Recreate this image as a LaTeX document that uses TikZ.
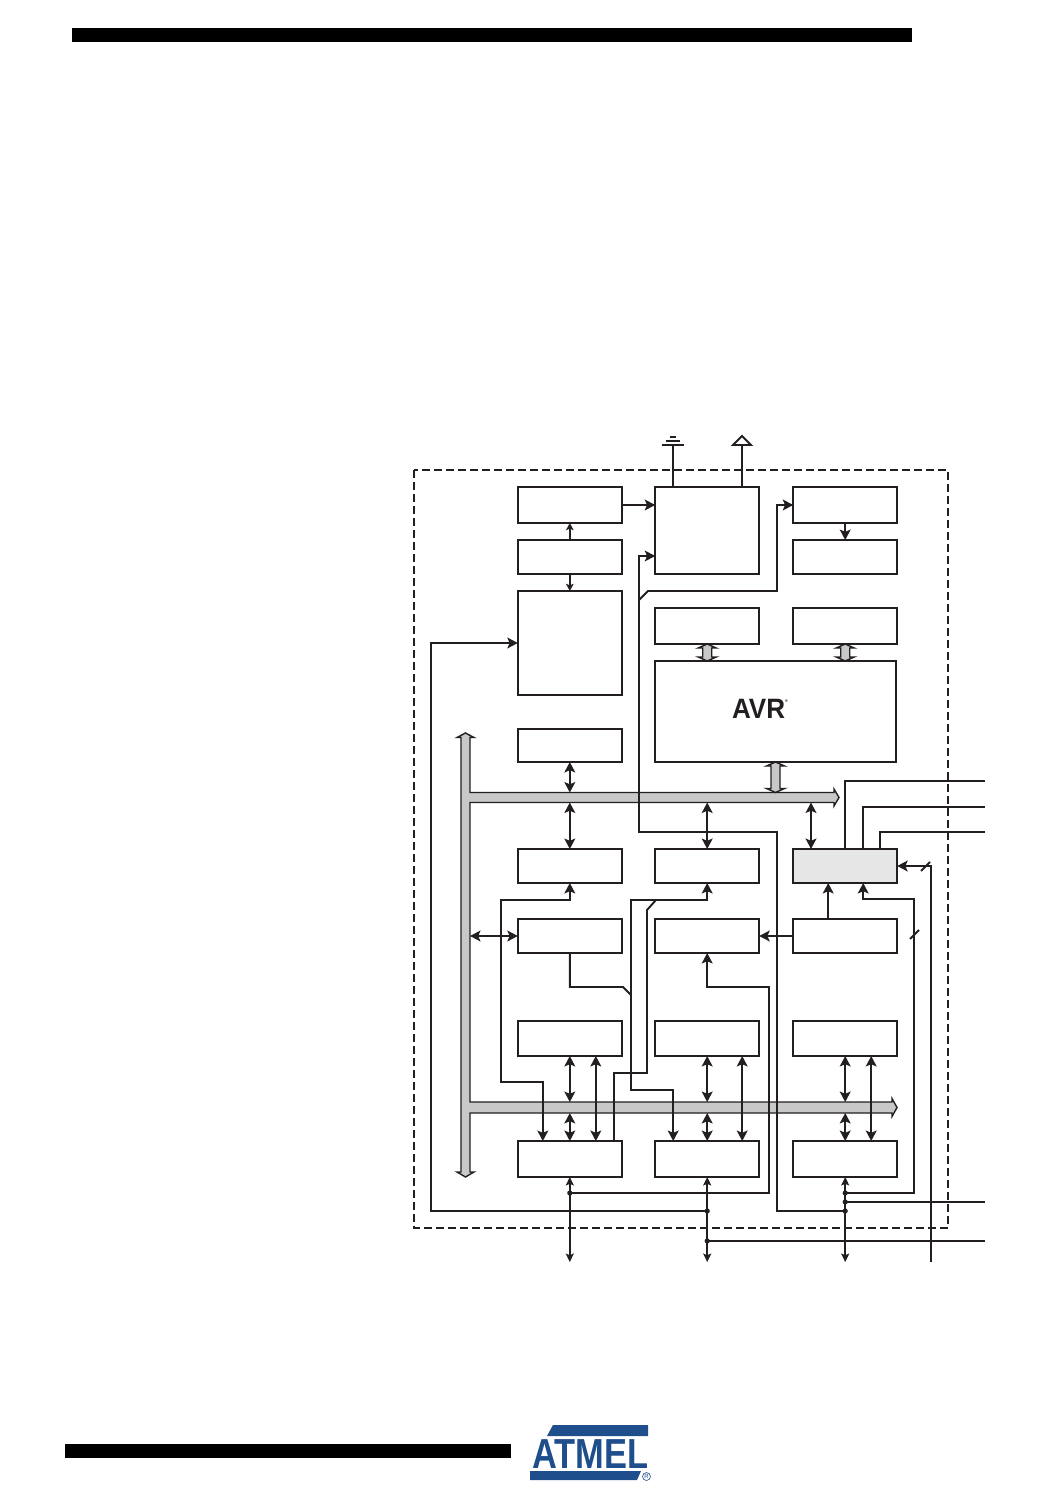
\documentclass[tikz,border=0pt]{standalone}
\usepackage{fontspec}
\usepackage{xcolor}
\usepackage{tikz}
\usetikzlibrary{arrows.meta,calc}
\newfontfamily\logofont{Liberation Sans}
\definecolor{ink}{HTML}{231F20}
\definecolor{busgray}{HTML}{C8C8C8}
\definecolor{adcgray}{HTML}{E6E6E6}
\definecolor{atmel}{HTML}{1F4E8C}
\tikzset{fig/.style={x=0.5pt,y=-0.5pt,line join=miter,ink,line width=0.95pt,>={Stealth[length=5.2pt,width=5.4pt,inset=1.1pt]}},
  blk/.style={draw=ink,fill=white,inner sep=0pt,outer sep=0pt,minimum width=52pt,minimum height=#1},
  blk/.default=17pt,
  bus/.style={fill=busgray,draw=ink,line width=0.7pt},
  tiny/.style={>={Stealth[length=3.6pt,width=3.8pt,inset=0.8pt]}},
  pin/.style={>={Stealth[length=4.2pt,width=4pt,inset=0.8pt]}}}
\newcommand{\fatlink}[2]{\filldraw[bus] (#1)--++(9,4)--++(-4.5,0)--($(#2)+(4.5,-4)$)--++(4.5,0)--(#2)--++(-9,-4)--++(4.5,0)--($(#1)+(-4.5,4)$)--++(-4.5,0)--cycle;}

\begin{document}
\begin{tikzpicture}[fig]
  \useasboundingbox (0,0) rectangle (1045,1487);
  % page bars
  \fill[black] (72,28) rectangle (912,42);
  \fill[black] (65,1444) rectangle (511,1458);
  % boundary
  \draw[line width=0.7pt,dash pattern=on 4pt off 2pt] (414,470) rectangle (948,1228);
  % buses
  \filldraw[bus] (465.5,733)--(474,737.5)--(470,737.5)--(470,792.5)--(834,792.5)--(834,789)--(839,797.5)--(834,806)--(834,802.5)--(470,802.5)--(470,1102)--(892,1102)--(892,1098.5)--(897,1107.5)--(892,1116.5)--(892,1113)--(470,1113)--(470,1172)--(474,1172)--(465.5,1177)--(457,1172)--(461,1172)--(461,737.5)--(457,737.5)--cycle;
  \coordinate (datatop) at (600,792.5);\coordinate (databot) at (600,802.5);
  \coordinate (iotop) at (600,1102);\coordinate (iobot) at (600,1113);
  \coordinate (busside) at (470,936);
  % blocks, upper part
  \node[blk=18pt] (wdosc) at (569.8,505){};
  \node[blk] (wdt) at (569.8,557){};
  \node[blk=52pt] (flash) at (569.8,643){};
  \node[blk=16.5pt,line width=0.7pt] (eeprom) at (569.8,745.5){};
  \node[blk=43.5pt] (clkctl) at (707.2,530.5){};
  \node[blk=18pt] (clksel) at (845.2,505){};
  \node[blk] (clkdiv) at (845.2,557){};
  \node[blk=18pt] (prgmem) at (707.2,626){};
  \node[blk=18pt] (sram) at (845.2,626){};
  \node[blk=50.5pt,minimum width=120.5pt] (cpu) at (775.5,711.5){};
  \node[font=\logofont\bfseries\fontsize{14}{14}\selectfont,inner sep=0pt,xscale=0.93] (avr) at (760,709){AVR\raisebox{1.1ex}{\fontsize{2}{2}\selectfont\textregistered}};
  % blocks, lower part
  \node[blk] (timer) at (569.8,866){};
  \node[blk] (usart) at (707.2,866){};
  \node[blk,fill=adcgray] (adc) at (845.2,866){};
  \node[blk] (intr) at (569.8,936){};
  \node[blk] (comp) at (707.2,936){};
  \node[blk] (vref) at (845.2,936){};
  \node[blk=17.5pt] (ddra) at (569.8,1038.5){};
  \node[blk=17.5pt] (ddrb) at (707.2,1038.5){};
  \node[blk=17.5pt] (ddrc) at (845.2,1038.5){};
  \node[blk=18pt] (pina) at (569.8,1159){};
  \node[blk=18pt] (pinb) at (707.2,1159){};
  \node[blk=18pt] (pinc) at (845.2,1159){};
  % supply
  \coordinate (gnd) at (673,445);\coordinate (vcc) at (742,445);
  \draw (gnd)--(gnd |- clkctl.north);
  \draw (661.5,445)--(684,445);\draw (665.5,441)--(680,441);\draw (670,437)--(676,437);
  \draw (vcc)--(vcc |- clkctl.north);
  \draw (733,445)--(742,436)--(751,445)--cycle;
  % upper wires
  \draw[->] (wdosc.east)--(wdosc.east -| clkctl.west);
  \draw[->,tiny] (wdt.north)--(wdosc.south);
  \draw[->,tiny] (wdt.south)--(flash.north);
  \draw[->] (clksel.south)--(clkdiv.north);
  \fatlink{prgmem.south}{prgmem.south |- cpu.north}
  \fatlink{sram.south}{sram.south |- cpu.north}
  \fatlink{cpu.south}{cpu.south |- datatop}
  \draw[->] (639,600)--(648,591)-|(777,505)--(clksel.west);
  % junctions
  \coordinate (jport) at (569.8,1193);\coordinate (jreset) at (707.2,1211);\coordinate (jout) at (707.2,1241);
  \coordinate (jref) at (845.2,1193);\coordinate (jain) at (845.2,1202);\coordinate (jclk) at (845.2,1211);
  \foreach \j in {jport,jreset,jout,jref,jain,jclk}{\fill (\j) circle (1.3pt);}
  % bus drops
  \draw[<->] (eeprom.south)--(eeprom.south |- datatop);
  \draw[<->] (timer.north)--(timer.north |- databot);
  \draw[<->] (usart.north)--(usart.north |- databot);
  \draw[<->] ($(adc.north)+(-34.2,0)$)--($(adc.north |- databot)+(-34.2,0)$);
  \draw[<->] (busside)--(intr.west);
  % gray block lines
  \draw (adc.north)|-(985,781);
  \draw ($(adc.north)+(18,0)$)|-(985,807);
  \draw ($(adc.north)+(35,0)$)|-(985,832);
  \coordinate (ain) at (931,1262);
  \draw[->] (ain)|-(adc.east);
  \draw (921,871)--(930,862);
  \draw[->] (jref)-|(914,899)-|($(adc.south)+(18,0)$);
  \draw (910,939)--(919,930);
  \draw[->] ($(vref.north)+(-17,0)$)--($(adc.south)+(-17,0)$);
  \draw[->] (vref.west)--(comp.east);
  \draw[->] (jport)-|(769,987)-|(comp.south);
  % long wires
  \draw[->] (jreset)-|(431,643)--(flash.west);
  \draw[->] (jclk)-|(777,832)-|(639,556)--($(clkctl.west)+(0,25.5)$);
  \draw[<->] ($(pina.north)+(-27,0)$)|-(501,1082)--(501,900)-|(timer.south);
  \draw[<->] ($(pinb.north)+(-34,0)$)|-(631,1090)--(631,900)-|(usart.south);
  \draw ($(pina.north)+(44.2,0)$)|-(647,1073)--(647,910)--(656,900);
  \draw (intr.south)|-(623,987)--(631,995);
  % port columns
  \foreach \d/\p/\off in {ddra/pina/26,ddrb/pinb/35,ddrc/pinc/26}{
    \draw[<->] (\d.south)--(\d.south |- iotop);
    \draw[<->] (\p.north)--(\p.north |- iobot);
    \draw[<->] ($(\d.south)+(\off,0)$)--($(\p.north)+(\off,0)$);
  }
  \foreach \p in {pina,pinb,pinc}{\coordinate (\p io) at (\p.south |- 0,1262);\draw[<->,pin] (\p.south)--(\p io);}
  \draw (jout)--(985,1241);
  \draw (jain)--(985,1202);
  % maker's mark
  \fill[atmel] (553,1425)--(648,1425)--(648,1436)--(547,1436)--cycle;
  \fill[atmel] (530,1471)--(641,1471)--(637,1480)--(530,1480)--cycle;
  \node[font=\logofont\bfseries\fontsize{21}{21}\selectfont,text=atmel,xscale=0.82,inner sep=0pt,anchor=base east] (maker) at (649,1468){ATMEL};
  \node[circle,draw=atmel,line width=0.3pt,inner sep=0pt,minimum size=4pt,font=\logofont\fontsize{3}{3}\selectfont,text=atmel] (mark) at (646.5,1476.5){R};
\end{tikzpicture}
\end{document}
